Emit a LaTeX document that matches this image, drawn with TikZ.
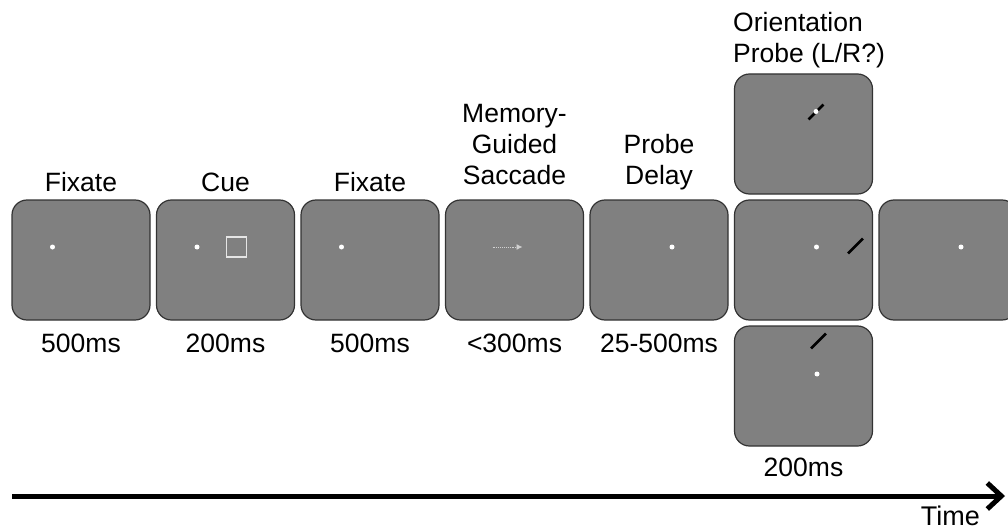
\documentclass[tikz,border=0pt]{standalone}
\usepackage{fontspec}
\setmainfont{Liberation Sans}
\usetikzlibrary{
  arrows.meta,
  positioning
}
\tikzset{
%
  % For the grey display screens.
  screen/.style={
    draw=black!80,
    fill=black!50,
    line width=1.2pt,
    rounded corners=15pt,
    minimum width=138pt,
    minimum height=120pt,
    inner sep=0pt,
    outer sep=0pt},
%
  % For the fixation point.
  fix dot/.style={
    circle,
    fill=white,
    minimum size=5pt,
    inner sep=0pt},
%
  % For the cue square.
  cue box/.style={
    draw=white!90!black,
    line width=1.2pt,
    minimum size=20pt,
    inner sep=0pt},
%
  % For the remembered saccade.
  saccade/.style={
    black!18,
    line width=0.9pt,
    densely dotted,
    -{Latex[length=6pt,width=6pt]}},
%
  % For the oriented probe bar.
  probe bar/.style={
    fill=black,
    rotate=45,
    minimum width=21pt,
    minimum height=2.8pt,
    inner sep=0pt},
%
  % For the labels of the phases.
  phase/.style={
    inner sep=0pt,
    align=center},
%
  % For the durations.
  dur/.style={
    inner sep=0pt},
%
  % For the time axis.
  time arrow/.style={
    line width=5pt,
    -{Straight Barb[length=14pt,width=26pt]}}
}

\begin{document}
\begin{tikzpicture}[x=1pt, y=1pt,
                    font=\fontsize{26.5}{31}\selectfont]
  \useasboundingbox (0,0) rectangle (1008,531);
  \clip (0,0) rectangle (1008,531);

  % screens
  \node[screen] (S1) at (81,271) {};
  \node[screen] (S2) [right=6.5pt of S1] {};
  \node[screen] (S3) [right=6.5pt of S2] {};
  \node[screen] (S4) [right=6.5pt of S3] {};
  \node[screen] (S5) [right=6.5pt of S4] {};
  \node[screen] (S6) [right=6.5pt of S5] {};
  \node[screen] (T) [above=6pt of S6] {};
  \node[screen] (B) [below=6pt of S6] {};
  \node[screen] (S7) [right=6.5pt of S6] {};

  % screen contents
  \node[fix dot] (F1) at ([shift={(-28.5,13)}]S1.center) {};
  \node[fix dot] (F2) at ([shift={(-28.5,13)}]S2.center) {};
  \node[cue box] (C) at ([shift={(11,13)}]S2.center) {};
  \node[fix dot] (F3) at ([shift={(-28.5,13)}]S3.center) {};
  \coordinate (A1) at ([shift={(-22,13)}]S4.center);
  \coordinate (A2) at ([shift={(8,13)}]S4.center);
  \draw[saccade] (A1) -- (A2);
  \node[fix dot] (F5) at ([shift={(13,13)}]S5.center) {};
  \node[fix dot] (F6) at ([shift={(13,13)}]S6.center) {};
  \node[probe bar] (P6) at ([shift={(52,14)}]S6.center) {};
  \node[probe bar] (PT) at ([shift={(12.5,22)}]T.center) {};
  \node[fix dot] (FT) at ([shift={(12.5,22.5)}]T.center) {};
  \node[probe bar] (PB) at ([shift={(15,45)}]B.center) {};
  \node[fix dot] (FB) at ([shift={(13.5,12)}]B.center) {};
  \node[fix dot] (F7) at ([shift={(13,13)}]S7.center) {};

  % phase labels
  \node[phase] (L1) [above=8pt of S1] {Fixate};
  \node[phase] (L2) [above=8pt of S2] {Cue};
  \node[phase] (L3) [above=8pt of S3] {Fixate};
  \node[phase] (L4) [above=15pt of S4] {Memory-\\Guided\\Saccade};
  \node[phase] (L5) [above=10pt of S5] {Probe\\Delay};
  \node[phase,
        align=left,
        above right=6pt and -1.5pt of T.north west] (L6)
    {Orientation\\Probe (L/R?)};

  % durations
  \node[dur] (D1) [below=14pt of S1] {500ms};
  \node[dur] (D2) [below=14pt of S2] {200ms};
  \node[dur] (D3) [below=14pt of S3] {500ms};
  \node[dur] (D4) [below=14pt of S4] {<300ms};
  \node[dur] (D5) [below=14pt of S5] {25-500ms};
  \node[dur] (D6) [below=12pt of B] {200ms};

  % time axis
  \coordinate (tS) at (12,35);
  \coordinate (tE) at (1005,35);
  \draw[time arrow] (tS) -- (tE);
  \node[inner sep=0pt,
        font=\fontsize{27}{30}\selectfont,
        below left=10pt and 25pt of tE] (TL) {Time};
\end{tikzpicture}
\end{document}
